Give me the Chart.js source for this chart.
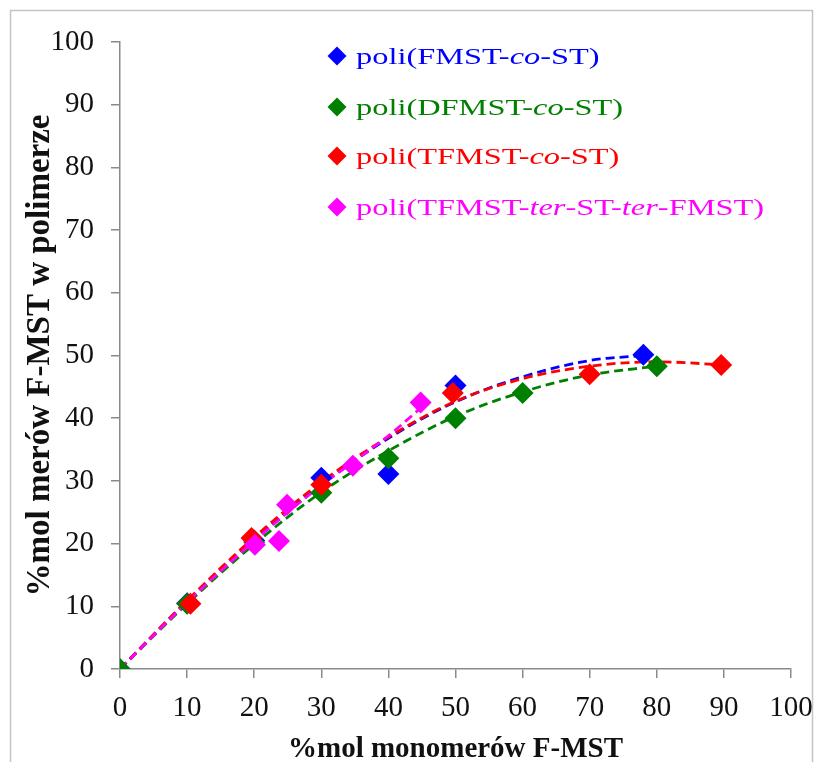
<!DOCTYPE html>
<html>
<head>
<meta charset="utf-8">
<title>F-MST copolymer composition</title>
<script src="https://cdn.jsdelivr.net/npm/chart.js@4/dist/chart.umd.min.js"></script>
<style>
  html, body { margin: 0; padding: 0; background: #fff; }
  #wrap { width: 820px; height: 762px; }
</style>
</head>
<body>
<div id="wrap"><canvas id="compChart" width="820" height="762"></canvas></div>
<script>
// measured points (x = %mol monomer in feed, y = %mol units in polymer)
const blueX = [10, 20, 30, 40, 50, 78];
const blueY = [10.5, 20.5, 30.5, 31.1, 45.2, 50.1];
const greenX = [0, 10, 20, 30, 40, 50, 60, 80];
const greenY = [0, 10.4, 20.2, 28.1, 33.6, 40.0, 44.0, 48.3];
const redX = [10.5, 19.6, 30, 49.6, 70, 89.6];
const redY = [10.4, 20.9, 29.4, 44.0, 47.0, 48.5];
const magentaX = [20.1, 23.7, 24.9, 34.7, 44.8];
const magentaY = [19.8, 20.4, 26.2, 32.4, 42.5];

// dashed trend curves
const blueTrendX = [0, 10, 20, 30, 40, 50, 60, 70, 78];
const blueTrendY = [0, 10.8, 20.6, 29.4, 36.8, 42.6, 46.6, 49.2, 50.0];
const greenTrendX = [0, 10, 20, 30, 40, 50, 60, 70, 80];
const greenTrendY = [0, 10.4, 19.9, 28.2, 34.8, 40.3, 44.2, 46.9, 48.3];
const redTrendX = [0, 10, 20, 30, 40, 50, 60, 70, 80, 90];
const redTrendY = [0, 10.9, 21.0, 29.8, 37.0, 42.7, 46.3, 48.3, 49.0, 48.5];
const magentaTrendX = [0, 10, 20, 30, 35, 40, 45];
const magentaTrendY = [0, 10.6, 20.4, 29.3, 33.2, 37.2, 41.8];

const xTicks = [0, 10, 20, 30, 40, 50, 60, 70, 80, 90, 100];
const yTicks = [0, 10, 20, 30, 40, 50, 60, 70, 80, 90, 100];

// legend text pieces: [text, italic]
const legendItems = [
    { color: '#0000ff', parts: [['poli(FMST-', false], ['co', true], ['-ST)', false]] },
    { color: '#008000', parts: [['poli(DFMST-', false], ['co', true], ['-ST)', false]] },
    { color: '#ff0000', parts: [['poli(TFMST-', false], ['co', true], ['-ST)', false]] },
    { color: '#ff00ff', parts: [['poli(TFMST-', false], ['ter', true], ['-ST-', false], ['ter', true], ['-FMST)', false]] }
];

const serif = "'Liberation Serif', 'Times New Roman', serif";
const axisGray = '#8a8a8a';

function toPoints(xs, ys) {
    return xs.map((x, i) => ({ x: x, y: ys[i] }));
}

function markerSet(xs, ys, color, order) {
    return {
        data: toPoints(xs, ys),
        showLine: false,
        pointStyle: 'rectRot',
        pointRadius: 11,
        pointHoverRadius: 11,
        backgroundColor: color,
        borderColor: color,
        borderWidth: 0,
        order: order
    };
}

function trendSet(xs, ys, color, order) {
    return {
        data: toPoints(xs, ys),
        showLine: true,
        pointRadius: 0,
        pointHoverRadius: 0,
        borderColor: color,
        borderWidth: 2.8,
        borderDash: [9, 5],
        cubicInterpolationMode: 'monotone',
        fill: false,
        order: order
    };
}

// gray frame round the whole figure
const framePlugin = {
    id: 'frame',
    beforeDraw(chart) {
        const ctx = chart.ctx;
        ctx.save();
        ctx.fillStyle = '#fff';
        ctx.fillRect(0, 0, chart.width, chart.height);
        ctx.strokeStyle = '#c4c4c4';
        ctx.lineWidth = 1.5;
        ctx.strokeRect(10.5, 10.5, 802, 800);
        ctx.restore();
    }
};

// legend with italic fragments
const legendPlugin = {
    id: 'richLegend',
    afterDraw(chart) {
        const ctx = chart.ctx;
        const rowY = [56, 107, 156, 207];
        legendItems.forEach((item, i) => {
            const y = rowY[i];
            ctx.save();
            ctx.fillStyle = item.color;
            ctx.beginPath();
            ctx.moveTo(337, y - 9.5);
            ctx.lineTo(346.5, y);
            ctx.lineTo(337, y + 9.5);
            ctx.lineTo(327.5, y);
            ctx.closePath();
            ctx.fill();

            ctx.translate(356, y + 8);
            ctx.scale(1.35, 1);
            ctx.textBaseline = 'alphabetic';
            let x = 0;
            item.parts.forEach(([txt, it]) => {
                ctx.font = (it ? 'italic ' : '') + '24px ' + serif;
                ctx.fillText(txt, x, 0);
                x += ctx.measureText(txt).width;
            });
            ctx.restore();
        });
    }
};

new Chart(document.getElementById('compChart'), {
    type: 'scatter',
    data: {
        datasets: [
            trendSet(blueTrendX, blueTrendY, '#0000ff', 8),
            trendSet(greenTrendX, greenTrendY, '#008000', 7),
            trendSet(redTrendX, redTrendY, '#ff0000', 6),
            trendSet(magentaTrendX, magentaTrendY, '#ff00ff', 5),
            markerSet(blueX, blueY, '#0000ff', 4),
            markerSet(greenX, greenY, '#008000', 3),
            markerSet(redX, redY, '#ff0000', 2),
            markerSet(magentaX, magentaY, '#ff00ff', 1)
        ]
    },
    options: {
        responsive: false,
        animation: false,
        layout: { padding: { top: 42, right: 29, left: 0, bottom: 0 } },
        plugins: {
            legend: { display: false },
            tooltip: { enabled: false }
        },
        scales: {
            x: {
                type: 'linear',
                min: 0,
                max: 100,
                afterFit: (scale) => {
                    scale.height = 93;
                    scale.paddingLeft = 0;
                    scale.paddingRight = 0;
                },
                afterBuildTicks: (scale) => { scale.ticks = xTicks.map(v => ({ value: v })); },
                grid: { drawOnChartArea: false, drawTicks: true, tickLength: 9, color: axisGray, lineWidth: 1.5 },
                border: { color: axisGray, width: 1.5 },
                ticks: { color: '#111', font: { family: serif, size: 29 }, padding: 13, maxRotation: 0 },
                title: {
                    display: true,
                    text: '%mol monomerów F-MST',
                    color: '#111',
                    font: { family: serif, size: 29, weight: 'bold' },
                    padding: { top: 0, bottom: -5 }
                }
            },
            y: {
                type: 'linear',
                min: 0,
                max: 100,
                afterFit: (scale) => {
                    scale.width = 120;
                    scale.paddingTop = 0;
                    scale.paddingBottom = 0;
                },
                afterBuildTicks: (scale) => { scale.ticks = yTicks.map(v => ({ value: v })); },
                grid: { drawOnChartArea: false, drawTicks: true, tickLength: 9, color: axisGray, lineWidth: 1.5 },
                border: { color: axisGray, width: 1.5 },
                ticks: { color: '#111', font: { family: serif, size: 29 }, padding: 17 },
                title: {
                    display: true,
                    text: '%mol merów F-MST w polimerze',
                    color: '#111',
                    font: { family: serif, size: 33, weight: 'bold' },
                    padding: { top: 21, bottom: 0 }
                }
            }
        }
    },
    plugins: [framePlugin, legendPlugin]
});
</script>
</body>
</html>
